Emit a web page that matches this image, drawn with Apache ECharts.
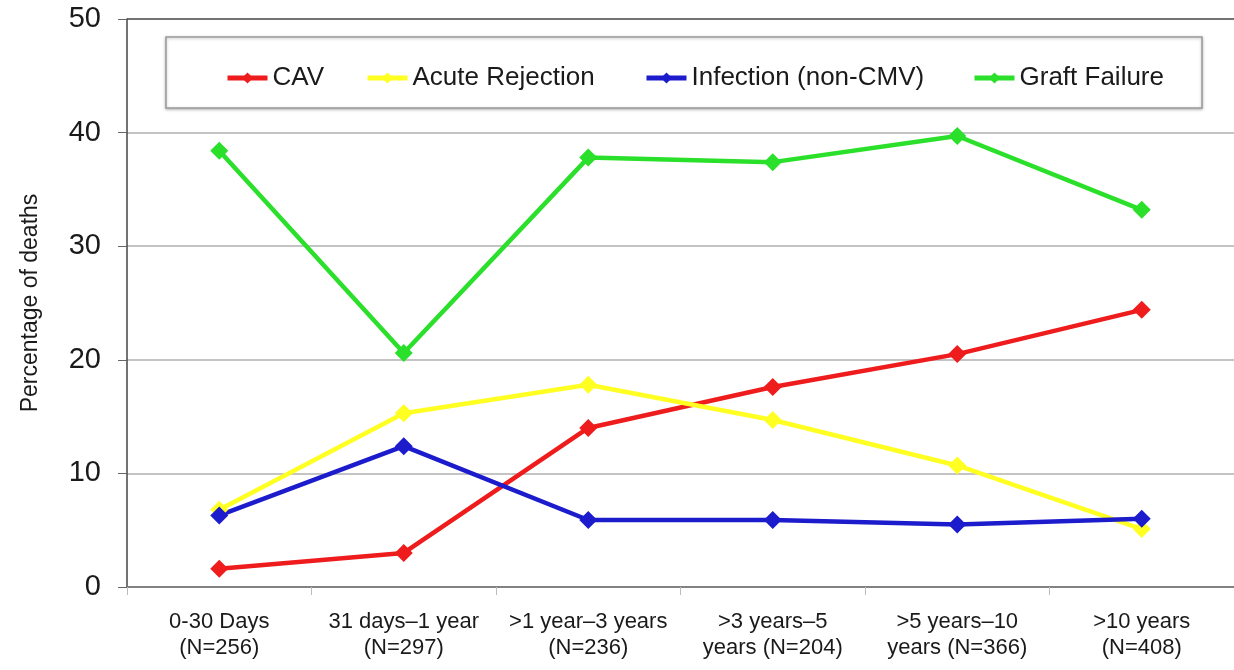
<!DOCTYPE html>
<html>
<head>
<meta charset="utf-8">
<script src="https://cdn.jsdelivr.net/npm/echarts@6/dist/echarts.min.js"></script>
<style>html,body{margin:0;padding:0;background:#fff;}#c{width:1234px;height:670px;}</style>
</head>
<body>
<div id="c"></div>
<script>
const categories = ['0-30 Days\n(N=256)', '31 days\u20131 year\n(N=297)', '>1 year\u20133 years\n(N=236)', '>3 years\u20135\nyears (N=204)', '>5 years\u201310\nyears (N=366)', '>10 years\n(N=408)'];
const seriesNames = ['CAV', 'Acute Rejection', 'Infection (non-CMV)', 'Graft Failure'];
const cav = [1.6, 3.0, 14.0, 17.6, 20.5, 24.4];
const acuteRejection = [6.8, 15.3, 17.8, 14.7, 10.7, 5.1];
const infection = [6.3, 12.4, 5.9, 5.9, 5.5, 6.0];
const graftFailure = [38.4, 20.6, 37.8, 37.4, 39.7, 33.2];
const yTicks = [0, 10, 20, 30, 40, 50];

const colors = ['#ee1c1c', '#ffff22', '#1c1ccc', '#2ae02a'];
const values = [cav, acuteRejection, infection, graftFailure];
const legendLefts = [220, 360, 639, 967];
const font = '"Liberation Sans", Arial, sans-serif';

const chart = echarts.init(document.getElementById('c'));
chart.setOption({
  animation: false,
  backgroundColor: '#fff',
  color: colors,
  graphic: [{
    type: 'rect',
    shape: { x: 166, y: 37, width: 1036, height: 71 },
    style: { fill: '#fff', stroke: '#9a9a9a', lineWidth: 1.5, shadowBlur: 3, shadowColor: 'rgba(0,0,0,0.25)', shadowOffsetY: 1 },
    z: 0
  }],
  legend: seriesNames.map((n, i) => ({
    data: [n],
    left: legendLefts[i],
    top: 60,
    itemWidth: 40,
    itemHeight: 14,
    itemGap: 5,
    lineStyle: { width: 5 },
    textStyle: { fontFamily: font, fontSize: 26, color: '#1a1a1a' },
    z: 5
  })),
  grid: { left: 127, top: 19, width: 1110, bottom: 83, containLabel: false },
  xAxis: {
    type: 'category',
    data: categories,
    boundaryGap: true,
    axisLine: { lineStyle: { color: '#777', width: 1.5 } },
    axisTick: { show: true, length: 8, lineStyle: { color: '#bbb' } },
    axisLabel: { fontFamily: font, fontSize: 22, color: '#1a1a1a', lineHeight: 26, margin: 22, interval: 0 }
  },
  yAxis: {
    type: 'value',
    min: yTicks[0],
    max: yTicks[yTicks.length - 1],
    interval: 10,
    name: 'Percentage of deaths',
    nameLocation: 'middle',
    nameGap: 85,
    nameTextStyle: { fontFamily: font, fontSize: 23, color: '#1a1a1a' },
    axisLine: { show: true, lineStyle: { color: '#444', width: 1.5 } },
    axisTick: { show: true, length: 9, lineStyle: { color: '#666' } },
    axisLabel: { fontFamily: font, fontSize: 29, color: '#1a1a1a', margin: 26 },
    splitLine: { show: true, lineStyle: { color: ['#888', '#b0b0b0', '#b0b0b0', '#b0b0b0', '#b0b0b0', '#444'], width: 1.5 } }
  },
  series: seriesNames.map((n, i) => ({
    name: n,
    type: 'line',
    data: values[i],
    symbol: 'diamond',
    symbolSize: 18,
    lineStyle: { width: 4.5, color: colors[i] },
    itemStyle: { color: colors[i] },
    z: 3 + (i === 3 ? 1 : 0)
  }))
});
</script>
</body>
</html>
